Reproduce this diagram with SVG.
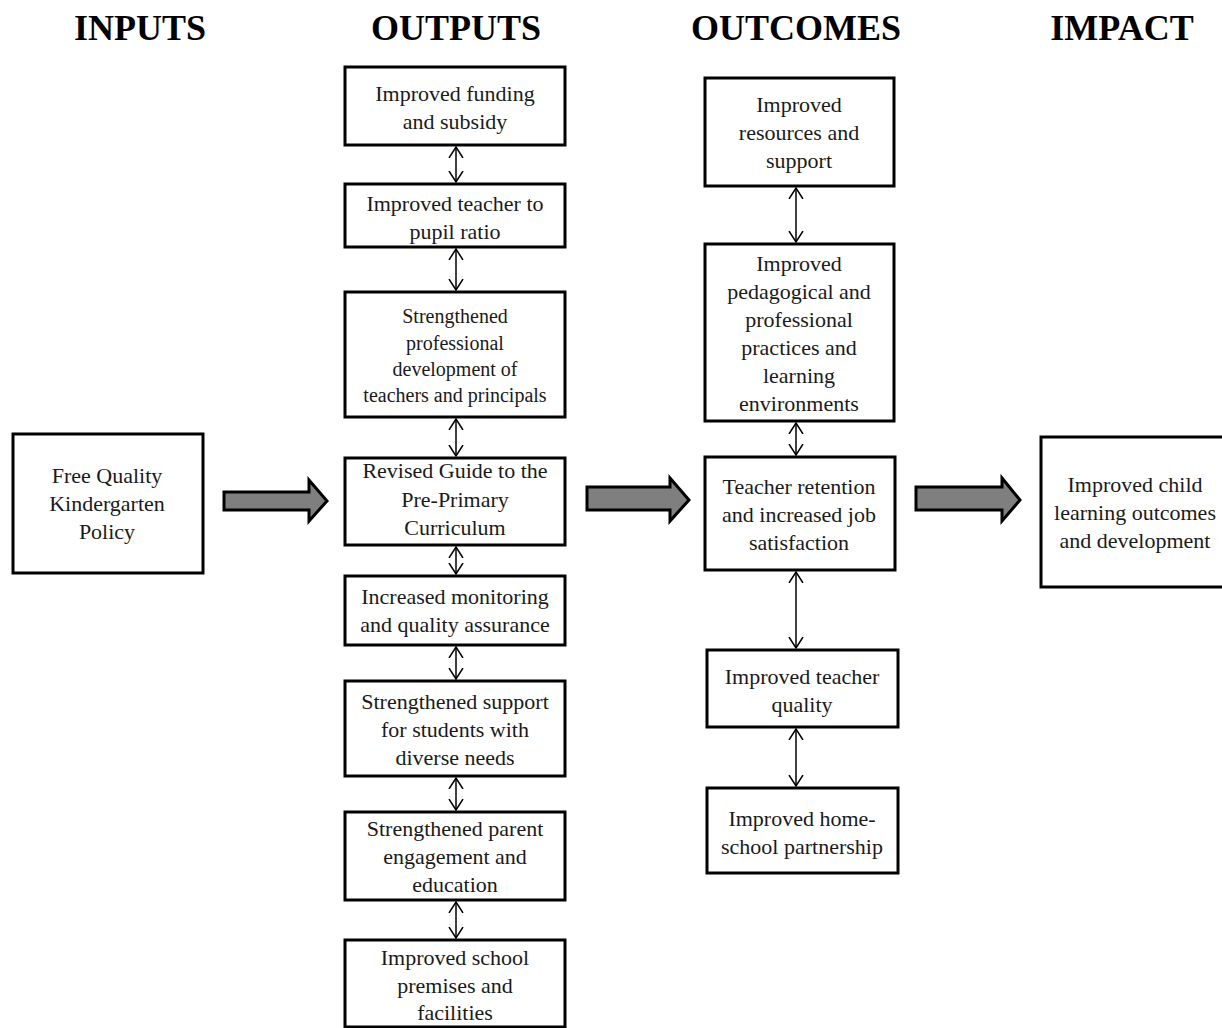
<svg xmlns="http://www.w3.org/2000/svg" width="1222" height="1028" viewBox="0 0 1222 1028">
<style>
.box{fill:#fff;stroke:#000;stroke-width:3}
.t{font-family:"Liberation Serif","Times New Roman",serif;font-size:22px;fill:#1a1a1a;text-anchor:middle}
.s{font-size:20px}
.h{font-family:"Liberation Serif","Times New Roman",serif;font-size:36px;font-weight:bold;fill:#000;text-anchor:middle}
.c{stroke:#000;stroke-width:1.5;fill:none;marker-start:url(#ah);marker-end:url(#ah)}
.blk{fill:#7f7f7f;stroke:#000;stroke-width:3;stroke-linejoin:miter}
</style>
<defs>
<marker id="ah" viewBox="0 0 12 16" refX="11" refY="8" markerWidth="12" markerHeight="16" markerUnits="userSpaceOnUse" orient="auto-start-reverse">
<path d="M0,1 L11,8 L0,15" fill="none" stroke="#000" stroke-width="1.5"/>
</marker>
</defs>
<rect width="1222" height="1028" fill="#fff"/>
<g id="headers">
<text class="h" x="140" y="40">INPUTS</text>
<text class="h" x="456" y="40">OUTPUTS</text>
<text class="h" x="796" y="40">OUTCOMES</text>
<text class="h" x="1122" y="40">IMPACT</text>
</g>
<g id="connectors">
<polygon class="blk" points="224,492 309,492 309,480 327,501 309,521 309,510 224,510"/>
<polygon class="blk" points="587,487 670,487 670,478 689,500 670,521 670,510 587,510"/>
<polygon class="blk" points="916,487 1002,487 1002,478 1020,500 1002,521 1002,510 916,510"/>
<line class="c" x1="456" y1="147" x2="456" y2="182"/>
<line class="c" x1="456" y1="249" x2="456" y2="290"/>
<line class="c" x1="456" y1="419" x2="456" y2="456"/>
<line class="c" x1="456" y1="547" x2="456" y2="574"/>
<line class="c" x1="456" y1="647" x2="456" y2="679"/>
<line class="c" x1="456" y1="778" x2="456" y2="810"/>
<line class="c" x1="456" y1="902" x2="456" y2="938"/>
<line class="c" x1="796" y1="188" x2="796" y2="242"/>
<line class="c" x1="796" y1="423" x2="796" y2="455"/>
<line class="c" x1="796" y1="572" x2="796" y2="648"/>
<line class="c" x1="796" y1="729" x2="796" y2="786"/>
</g>
<g id="n-input">
<rect class="box" x="13" y="434" width="190" height="139"/>
<text class="t" x="107" y="483">Free Quality</text>
<text class="t" x="107" y="511">Kindergarten</text>
<text class="t" x="107" y="539">Policy</text>
</g>
<g id="n-o1">
<rect class="box" x="345" y="67" width="220" height="78"/>
<text class="t" x="455" y="101">Improved funding</text>
<text class="t" x="455" y="129">and subsidy</text>
</g>
<g id="n-o2">
<rect class="box" x="345" y="184" width="220" height="63"/>
<text class="t" x="455" y="211">Improved teacher to</text>
<text class="t" x="455" y="239">pupil ratio</text>
</g>
<g id="n-o3">
<rect class="box" x="345" y="292" width="220" height="125"/>
<text class="t s" x="455" y="323">Strengthened</text>
<text class="t s" x="455" y="350">professional</text>
<text class="t s" x="455" y="376">development of</text>
<text class="t s" x="455" y="402">teachers and principals</text>
</g>
<g id="n-o4">
<rect class="box" x="345" y="458" width="220" height="87"/>
<text class="t" x="455" y="478">Revised Guide to the</text>
<text class="t" x="455" y="507">Pre-Primary</text>
<text class="t" x="455" y="535">Curriculum</text>
</g>
<g id="n-o5">
<rect class="box" x="345" y="576" width="220" height="69"/>
<text class="t" x="455" y="604">Increased monitoring</text>
<text class="t" x="455" y="632">and quality assurance</text>
</g>
<g id="n-o6">
<rect class="box" x="345" y="681" width="220" height="95"/>
<text class="t" x="455" y="709">Strengthened support</text>
<text class="t" x="455" y="737">for students with</text>
<text class="t" x="455" y="765">diverse needs</text>
</g>
<g id="n-o7">
<rect class="box" x="345" y="812" width="220" height="88"/>
<text class="t" x="455" y="836">Strengthened parent</text>
<text class="t" x="455" y="864">engagement and</text>
<text class="t" x="455" y="892">education</text>
</g>
<g id="n-o8">
<rect class="box" x="345" y="940" width="220" height="87"/>
<text class="t" x="455" y="965">Improved school</text>
<text class="t" x="455" y="993">premises and</text>
<text class="t" x="455" y="1020">facilities</text>
</g>
<g id="n-c1">
<rect class="box" x="705" y="78" width="189" height="108"/>
<text class="t" x="799" y="112">Improved</text>
<text class="t" x="799" y="140">resources and</text>
<text class="t" x="799" y="168">support</text>
</g>
<g id="n-c2">
<rect class="box" x="705" y="244" width="189" height="177"/>
<text class="t" x="799" y="271">Improved</text>
<text class="t" x="799" y="299">pedagogical and</text>
<text class="t" x="799" y="327">professional</text>
<text class="t" x="799" y="355">practices and</text>
<text class="t" x="799" y="383">learning</text>
<text class="t" x="799" y="411">environments</text>
</g>
<g id="n-c3">
<rect class="box" x="705" y="457" width="190" height="113"/>
<text class="t" x="799" y="494">Teacher retention</text>
<text class="t" x="799" y="522">and increased job</text>
<text class="t" x="799" y="550">satisfaction</text>
</g>
<g id="n-c4">
<rect class="box" x="707" y="650" width="191" height="77"/>
<text class="t" x="802" y="684">Improved teacher</text>
<text class="t" x="802" y="712">quality</text>
</g>
<g id="n-c5">
<rect class="box" x="707" y="788" width="191" height="85"/>
<text class="t" x="802" y="826">Improved home-</text>
<text class="t" x="802" y="854">school partnership</text>
</g>
<g id="n-impact">
<rect class="box" x="1041" y="437" width="200" height="150"/>
<text class="t" x="1135" y="492">Improved child</text>
<text class="t" x="1135" y="520">learning outcomes</text>
<text class="t" x="1135" y="548">and development</text>
</g>
</svg>
